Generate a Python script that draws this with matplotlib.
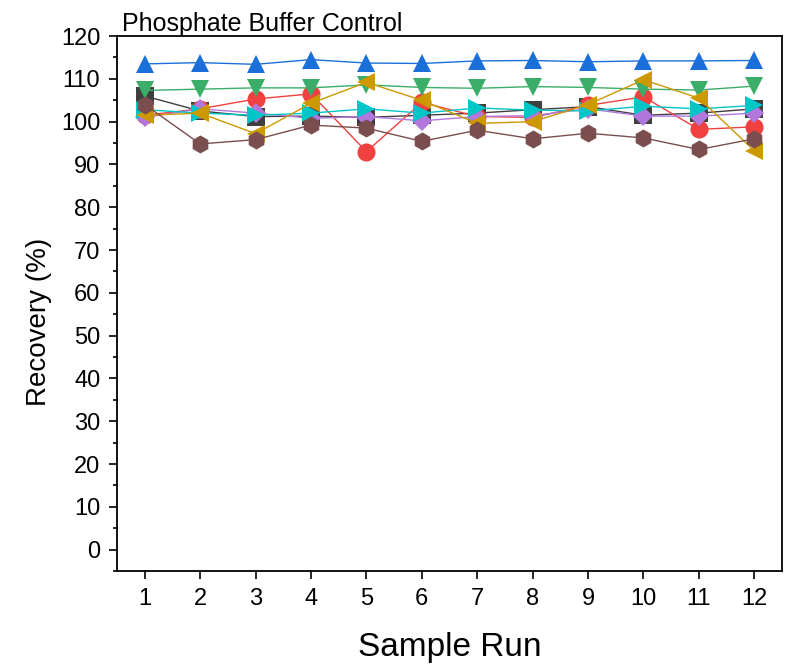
import numpy as np
import matplotlib
matplotlib.use('Agg')
import matplotlib.pyplot as plt
from matplotlib.ticker import MultipleLocator

plt.rcParams['font.family'] = ['Liberation Sans', 'DejaVu Sans']

runs = np.arange(1, 13)

# recovery (%) per series
blue_up = [113.5, 113.8, 113.4, 114.5, 113.7, 113.6, 114.2, 114.3, 114.0, 114.2, 114.2, 114.3]
green_down = [107.3, 107.6, 107.9, 107.9, 108.6, 108.0, 107.8, 108.2, 108.0, 107.6, 107.4, 108.3]
red_circle = [101.5, 103.0, 105.3, 106.5, 93.0, 104.5, 101.2, 101.0, 103.8, 105.8, 98.2, 98.8]
gray_square = [106.0, 102.5, 101.2, 101.3, 101.0, 101.5, 102.0, 102.8, 103.5, 101.5, 102.0, 103.0]
purple_diamond = [101.0, 103.0, 102.0, 100.8, 101.2, 100.2, 101.2, 101.4, 103.0, 101.3, 101.3, 102.0]
cyan_right = [102.8, 102.0, 101.5, 102.0, 103.0, 102.0, 103.2, 102.7, 102.5, 103.6, 103.0, 103.8]
gold_left = [101.5, 102.0, 97.2, 104.3, 109.2, 105.0, 99.6, 100.0, 104.0, 109.8, 105.5, 93.2]
brown_hex = [104.0, 94.8, 95.8, 99.2, 98.5, 95.4, 98.0, 96.0, 97.3, 96.2, 93.5, 96.0]

series = [
    (gray_square, 's', '#3f3f3f'),
    (red_circle, 'o', '#f04040'),
    (blue_up, '^', '#1b6fd8'),
    (green_down, 'v', '#3aad68'),
    (purple_diamond, 'D', '#b077dc'),
    (cyan_right, '>', '#00c6c8'),
    (gold_left, '<', '#cc9900'),
    (brown_hex, 'h', '#7a4e4e'),
]

fig = plt.figure(figsize=(7.87, 6.67), dpi=100)
ax = fig.add_axes([0.1487, 0.1439, 0.845, 0.802])

for vals, mk, col in series:
    ms = 10 if mk == 'D' else 13
    ax.plot(runs, vals, color=col, marker=mk, markersize=ms, linewidth=1,
            markeredgewidth=0)

ax.set_xlim(0.5, 12.5)
ax.set_ylim(-5, 120)
ax.set_xticks(runs)
ax.yaxis.set_major_locator(MultipleLocator(10))
ax.yaxis.set_minor_locator(MultipleLocator(5))
ax.tick_params(axis='both', which='major', direction='out', length=6, width=1.2,
               labelsize=17, top=False, right=False, pad=6)
ax.tick_params(axis='y', which='minor', direction='out', length=3, width=1.2)
for s in ax.spines.values():
    s.set_linewidth(1.3)

ax.set_xlabel('Sample Run', fontsize=24, labelpad=16)
ax.set_ylabel('Recovery (%)', fontsize=20)
ax.yaxis.set_label_coords(-0.098, 0.465)
ax.set_title('Phosphate Buffer Control', fontsize=18, loc='left', pad=4, x=0.007)

fig.savefig('out.png', dpi=100)
